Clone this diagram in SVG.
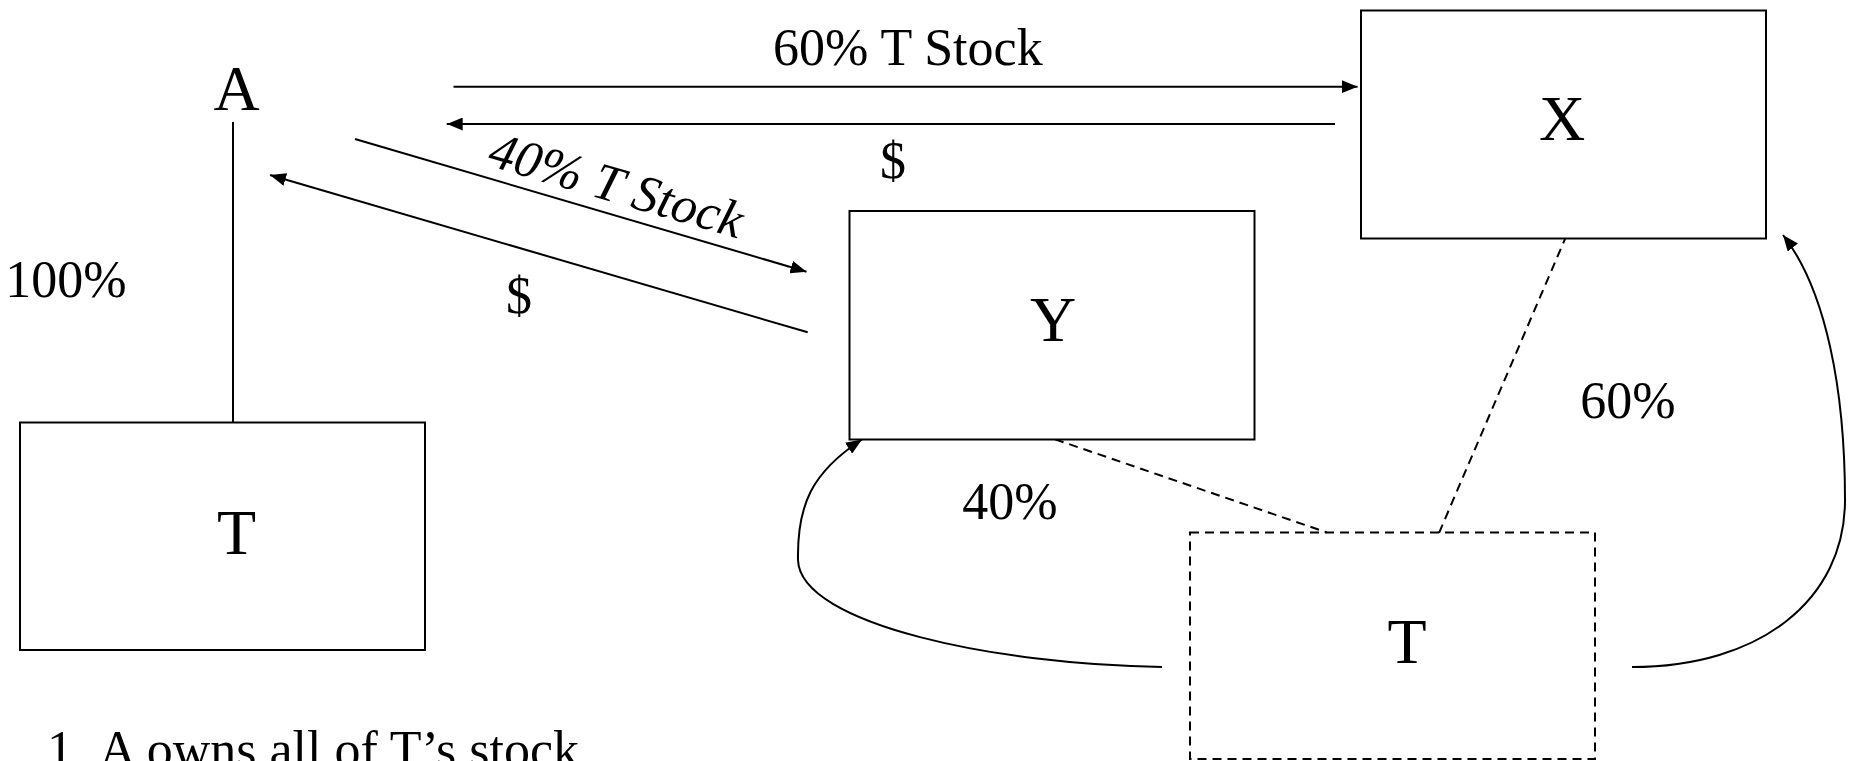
<svg xmlns="http://www.w3.org/2000/svg" width="1851" height="761" viewBox="0 0 1851 761">
<defs>
<style>
.box{fill:#fff;stroke:#000;stroke-width:2}
.dbox{fill:none;stroke:#000;stroke-width:2;stroke-dasharray:9 6}
.ln{fill:none;stroke:#000;stroke-width:2}
.dl{fill:none;stroke:#000;stroke-width:2;stroke-dasharray:9 6}
.big{font-family:"Liberation Serif","Times New Roman",serif;font-size:64px;fill:#000;text-anchor:middle}
.lbl{font-family:"Liberation Serif","Times New Roman",serif;font-size:52px;fill:#000}
.mid{text-anchor:middle}
</style>
<marker id="ah" viewBox="0 0 16 13" markerWidth="16" markerHeight="13" refX="16" refY="6.5" orient="auto" markerUnits="userSpaceOnUse">
<path d="M0,0 L16,6.5 L0,13 z" fill="#000"/>
</marker>
</defs>
<rect width="1851" height="761" fill="#fff"/>
<g id="connectors">
<line class="ln" x1="233" y1="122" x2="233" y2="422.5"/>
<line class="ln" x1="453.5" y1="86.7" x2="1357.6" y2="86.7" marker-end="url(#ah)"/>
<line class="ln" x1="1335" y1="124" x2="446.7" y2="124" marker-end="url(#ah)"/>
<line class="ln" x1="355" y1="139" x2="806.5" y2="271.7" marker-end="url(#ah)"/>
<line class="ln" x1="807.7" y1="332.3" x2="270" y2="175" marker-end="url(#ah)"/>
<line class="dl" x1="1566.7" y1="235" x2="1439" y2="533"/>
<line class="dl" x1="1055" y1="439.3" x2="1326.5" y2="532.3"/>
<path class="ln" d="M1162,667 C1000,665 800,625 798,560 C797,505 812,472 862,439.5" marker-end="url(#ah)"/>
<path class="ln" d="M1632,667 C1760,667 1845,600 1845,500 C1845,390 1826,290 1783,235" marker-end="url(#ah)"/>
</g>
<g id="node-A">
<text class="big" x="236.5" y="110">A</text>
</g>
<g id="node-T-left">
<rect class="box" x="20" y="422.5" width="405" height="227.5"/>
<text class="big" x="236.5" y="554">T</text>
</g>
<g id="node-Y">
<rect class="box" x="849.5" y="211" width="405" height="228.5"/>
<text class="big" x="1053" y="341">Y</text>
</g>
<g id="node-X">
<rect class="box" x="1361" y="10.5" width="405" height="228"/>
<text class="big" x="1562" y="140">X</text>
</g>
<g id="node-T-right">
<rect class="dbox" x="1190" y="532.5" width="405" height="226.5"/>
<text class="big" x="1407" y="663">T</text>
</g>
<g id="labels">
<text class="lbl" x="773" y="65">60% T Stock</text>
<text class="lbl mid" x="893" y="178">$</text>
<text class="lbl" font-style="italic" font-size="53" x="486" y="165" transform="rotate(16.3 486 165)">40% T Stock</text>
<text class="lbl mid" x="519" y="313">$</text>
<text class="lbl mid" x="66" y="296.7" font-size="46">100%</text>
<text class="lbl mid" x="1628" y="418.3">60%</text>
<text class="lbl mid" x="1010" y="519.3">40%</text>
<text class="lbl" x="47" y="767">1.</text>
<text class="lbl" x="99" y="767">A owns all of T’s stock</text>
</g>
</svg>
